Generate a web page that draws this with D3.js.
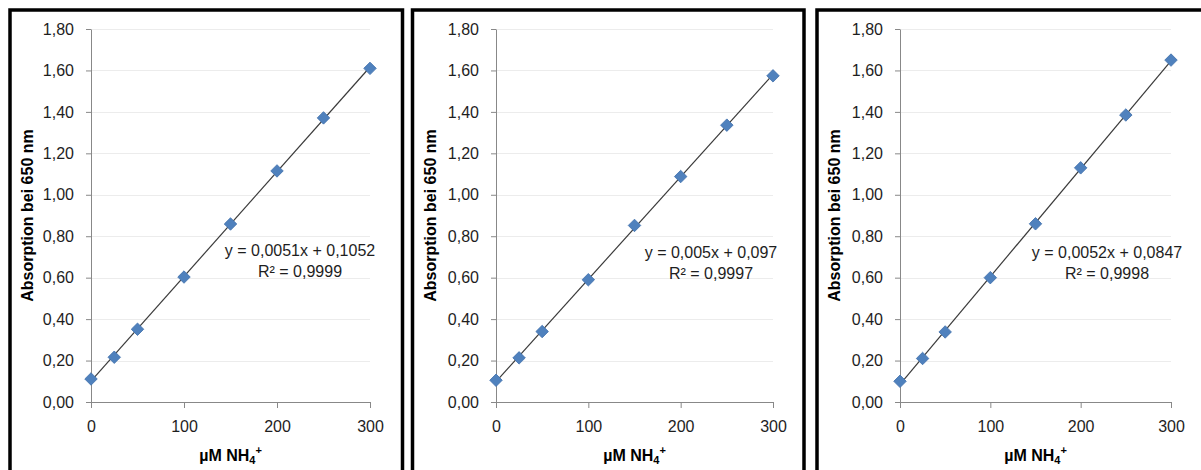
<!DOCTYPE html>
<html>
<head>
<meta charset="utf-8">
<script src="https://cdn.jsdelivr.net/npm/d3@7"></script>
<style>
	body { margin: 0; background: #fff; }
	svg { display: block; font-family: "Liberation Sans", Arial, sans-serif; }
</style>
</head>
<body>
<div class="c-svg"></div>
<script>
//DATA
//-------------------------------------------------------------------------

const concentration = [0, 25, 50, 100, 150, 200, 250, 300]; //µM NH4+
const absorption1 = [0.111, 0.216, 0.351, 0.603, 0.859, 1.115, 1.371, 1.610];
const absorption2 = [0.105, 0.213, 0.340, 0.590, 0.852, 1.088, 1.336, 1.574];
const absorption3 = [0.100, 0.210, 0.338, 0.600, 0.860, 1.130, 1.385, 1.650];
const equations = ["y = 0,0051x + 0,1052", "y = 0,005x + 0,097", "y = 0,0052x + 0,0847"];
const rSquared = ["R² = 0,9999", "R² = 0,9997", "R² = 0,9998"];
const yTicks = [0, 0.2, 0.4, 0.6, 0.8, 1.0, 1.2, 1.4, 1.6, 1.8];
const xTicks = [0, 100, 200, 300];
const yTitle = "Absorption bei 650 nm";

const series = [absorption1, absorption2, absorption3];

//LAYOUT
//-------------------------------------------------------------------------

const opts = { width: 1201, height: 470 };

//panel frames and plot areas
const panels = [
	{ frame: [10, 10, 402.5], plot: { left: 91, right: 370 }, eq: { x: 300, y: 250 } },
	{ frame: [412.5, 10, 804], plot: { left: 496, right: 773 }, eq: { x: 711, y: 252 } },
	{ frame: [817, 10, 1220], plot: { left: 900, right: 1171 }, eq: { x: 1107, y: 252 } }
];
const plotTop = 29;
const plotBottom = 402;

const fmt = d3.format(".2f");
const comma = v => fmt(v).replace(".", ",");

const svg = d3.select(".c-svg")
	.append("svg")
	.attr("width", opts.width)
	.attr("height", opts.height);

//least squares fit for the trendline
function fit(xs, ys){
	const mx = d3.mean(xs), my = d3.mean(ys);
	const b = d3.sum(xs, (x, i) => (x - mx) * (ys[i] - my)) / d3.sum(xs, x => (x - mx) * (x - mx));
	return { slope: b, intercept: my - b * mx };
}

const diamond = d3.symbol().type(d3.symbolSquare).size(78);

panels.forEach((p, k) => {

	const values = series[k];

	//frame
	svg.append("path")
		.attr("d", `M${p.frame[0]},${opts.height + 10} V${p.frame[1]} H${p.frame[2]} V${opts.height + 10}`)
		.style("fill", "none")
		.style("stroke", "#000")
		.style("stroke-width", 3.5);

	const x = d3.scaleLinear().domain([0, 300]).range([p.plot.left, p.plot.right]);
	const y = d3.scaleLinear().domain([0, 1.8]).range([plotBottom, plotTop]);

	const g = svg.append("g");

	//gridlines
	g.selectAll(".grid")
		.data(yTicks.filter(d => d > 0))
		.join("line")
		.attr("x1", x(0))
		.attr("x2", x(300))
		.attr("y1", d => Math.round(y(d)) + 0.5)
		.attr("y2", d => Math.round(y(d)) + 0.5)
		.style("stroke", "#ececec")
		.style("stroke-width", 1);

	//y axis
	const yAxis = g.append("g")
		.attr("transform", `translate(${x(0)},0)`)
		.call(d3.axisLeft(y).tickValues(yTicks).tickFormat(comma).tickSizeInner(5).tickSizeOuter(0).tickPadding(12));

	//x axis
	const xAxis = g.append("g")
		.attr("transform", `translate(0,${plotBottom})`)
		.call(d3.axisBottom(x).tickValues(xTicks).tickFormat(d3.format("d")).tickSizeInner(6).tickSizeOuter(0).tickPadding(13));

	[yAxis, xAxis].forEach(ax => {
		ax.select(".domain").style("stroke", "#888");
		ax.selectAll(".tick line").style("stroke", "#888");
		ax.selectAll(".tick text")
			.style("font-size", "16px")
			.style("fill", "#1e1e1e")
			.style("font-family", "Liberation Sans, Arial, sans-serif");
	});

	//trendline
	const f = fit(concentration, values);
	g.append("line")
		.attr("x1", x(0))
		.attr("y1", y(f.intercept))
		.attr("x2", x(300))
		.attr("y2", y(f.intercept + f.slope * 300))
		.style("stroke", "#3a3a3a")
		.style("stroke-width", 1.2);

	//markers
	g.selectAll(".pt")
		.data(concentration)
		.join("path")
		.attr("d", diamond)
		.attr("transform", (d, i) => `translate(${x(d)},${y(values[i])}) rotate(45)`)
		.style("fill", "#4f81bd")
		.style("stroke", "#4373ad")
		.style("stroke-width", 0.8);

	//equation
	const eq = g.append("text")
		.attr("text-anchor", "middle")
		.style("font-size", "16px")
		.style("fill", "#1e1e1e");
	eq.append("tspan").attr("x", p.eq.x).attr("y", p.eq.y + 6).text(equations[k]);
	eq.append("tspan").attr("x", p.eq.x).attr("y", p.eq.y + 27).text(rSquared[k]);

	//x title
	const xt = g.append("text")
		.attr("x", (x(0) + x(300)) / 2)
		.attr("y", 461)
		.attr("text-anchor", "middle")
		.style("font-size", "16px")
		.style("font-weight", "bold")
		.style("fill", "#000");
	xt.append("tspan").text("µM NH");
	xt.append("tspan").attr("dy", 3).style("font-size", "11px").text("4");
	xt.append("tspan").attr("dy", -10).style("font-size", "11px").text("+");

	//y title
	g.append("text")
		.attr("transform", `translate(${p.frame[0] + 23},${(plotTop + plotBottom) / 2}) rotate(-90)`)
		.attr("text-anchor", "middle")
		.style("font-size", "16px")
		.style("font-weight", "bold")
		.style("fill", "#000")
		.text(yTitle);
});
</script>
</body>
</html>
